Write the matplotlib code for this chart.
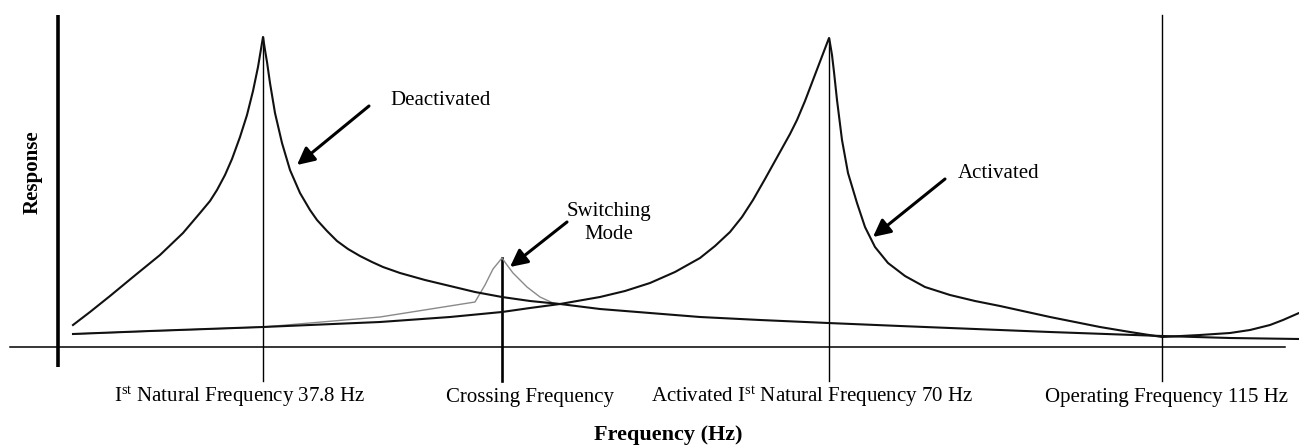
import matplotlib
matplotlib.use('Agg')
import matplotlib.pyplot as plt

plt.rcParams['font.family'] = ['Liberation Serif', 'DejaVu Serif']
plt.rcParams['mathtext.fontset'] = 'custom'
plt.rcParams['mathtext.rm'] = 'Liberation Serif'
plt.rcParams['mathtext.it'] = 'Liberation Serif:italic'
plt.rcParams['mathtext.bf'] = 'Liberation Serif:bold'

# schematic frequency position (drawing units) and response height above the baseline
deact_x = [73, 90, 110, 133, 160, 183, 200, 210, 217, 225, 232, 240, 247, 253, 258, 263,
           265, 267, 270, 275, 282, 290, 300, 310, 317, 327, 337, 348, 360, 372, 383,
           400, 425, 450, 475, 502, 530, 560, 600, 650, 700, 760, 828, 900, 950, 1050,
           1162, 1230, 1299]
deact_y = [22, 35, 51, 70, 92, 114, 134, 146, 157, 172, 188, 210, 232, 256, 280, 310,
           297, 285, 264, 234, 204, 177, 154, 137, 127, 116, 106, 98, 91, 85, 80,
           74, 67, 61, 55, 50, 46, 43, 38, 34, 30, 27, 24, 21, 19, 15,
           11, 9, 8]

act_x = [73, 150, 263, 380, 450, 502, 530, 560, 600, 625, 650, 675, 700, 715, 730, 742,
         753, 765, 780, 790, 797, 805, 813, 821, 829,
         830, 832, 834, 837, 842, 848, 857, 865, 875, 888, 905, 925, 950, 975, 1000,
         1050, 1100, 1130, 1162, 1200, 1230, 1250, 1270, 1283, 1299]
act_y = [13, 16, 20, 25, 30, 35, 39, 43, 50, 56, 64, 75, 89, 101, 115, 130,
         147, 168, 195, 213, 227, 246, 267, 288, 309,
         304, 292, 275, 247, 207, 174, 144, 120, 100, 84, 71, 60, 52, 46, 41,
         30, 20, 15, 10, 12, 14, 17, 22, 27, 34]

switch_x = [73, 263, 380, 475, 485, 493, 502, 507, 513, 520, 527, 540, 553, 560]
switch_y = [13, 20, 30, 45, 62, 78, 89, 82, 74, 67, 60, 50, 44, 43]

marker_x = [263, 502, 829, 1162]
marker_top = [310, 89, 309, 332]
marker_lw = [1.0, 1.9, 1.0, 1.0]

tick_labels = [r'I$^{\mathrm{st}}$ Natural Frequency 37.8 Hz', 'Crossing Frequency',
               r'Activated I$^{\mathrm{st}}$ Natural Frequency 70 Hz',
               'Operating Frequency 115 Hz']
tick_label_x = [240, 530, 812, 1167]

fig = plt.figure(figsize=(12.99, 4.48), dpi=100)
ax = fig.add_axes([0, 0, 1, 1])
ax.set_xlim(0, 1299)
ax.set_ylim(-101, 347)
ax.axis('off')

# axes drawn as crossing lines
ax.plot([58, 58], [-20, 332], color='black', lw=2.6, solid_capstyle='butt')
ax.plot([10, 1285], [0, 0], color='black', lw=1.1)

for mx, mt, mlw in zip(marker_x, marker_top, marker_lw):
    ax.plot([mx, mx], [-34, mt], color='black', lw=mlw)

ax.plot(switch_x, switch_y, color='#8a8a8a', lw=1.0)
ax.plot(deact_x, deact_y, color='#111111', lw=1.5)
ax.plot(act_x, act_y, color='#111111', lw=1.5)

for lx, lab in zip(tick_label_x, tick_labels):
    ax.text(lx, -50, lab, fontsize=15, ha='center', va='center')

ax.text(668, -88, 'Frequency (Hz)', fontsize=16, fontweight='bold', ha='center', va='center')
ax.text(33, 175, 'Response', fontsize=15, fontweight='bold', rotation=90, ha='center', va='center')

arrow = dict(arrowstyle='-|>', color='black', lw=2.2, mutation_scale=26, shrinkA=0, shrinkB=0)
ax.annotate('', xy=(297, 182), xytext=(369, 241), arrowprops=arrow)
ax.annotate('', xy=(873, 110), xytext=(945, 168), arrowprops=arrow)
ax.annotate('', xy=(510, 80), xytext=(567, 125), arrowprops=arrow)

ax.text(390, 247, 'Deactivated', fontsize=15, ha='left', va='center')
ax.text(958, 174, 'Activated', fontsize=15, ha='left', va='center')
ax.text(609, 124, 'Switching\nMode', fontsize=15, ha='center', va='center', linespacing=1.35)

fig.savefig('out.png', dpi=100)
